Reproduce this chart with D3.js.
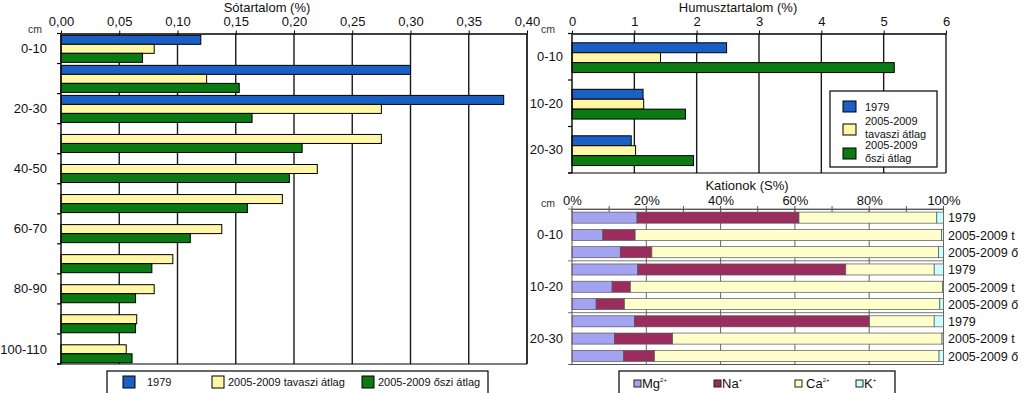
<!DOCTYPE html>
<html>
<head>
<meta charset="utf-8">
<script src="https://cdn.jsdelivr.net/npm/d3@7"></script>
<style>
  body { margin: 0; background: #fff; }
  svg { display: block; font-family: "Liberation Sans", Arial, sans-serif; }
</style>
</head>
<body>
<div id="chart"></div>
<script>
// Sótartalom (%) - 11 mélység
const saltDepths = ["0-10", "10-20", "20-30", "30-40", "40-50", "50-60", "60-70", "70-80", "80-90", "90-100", "100-110"];
const saltTicks = [0, 0.05, 0.10, 0.15, 0.20, 0.25, 0.30, 0.35, 0.40];
const salt1979 = [0.120, 0.300, 0.380, null, null, null, null, null, null, null, null];
const saltSpring = [0.080, 0.125, 0.275, 0.275, 0.220, 0.190, 0.138, 0.096, 0.080, 0.065, 0.056];
const saltAutumn = [0.070, 0.153, 0.164, 0.207, 0.196, 0.160, 0.111, 0.078, 0.064, 0.064, 0.061];

// Humusztartalom (%)
const humusDepths = ["0-10", "10-20", "20-30"];
const humusTicks = [0, 1, 2, 3, 4, 5, 6];
const humus1979 = [2.48, 1.14, 0.95];
const humusSpring = [1.42, 1.15, 1.02];
const humusAutumn = [5.17, 1.82, 1.95];

const seriesNames = ["1979", "2005-2009 tavaszi átlag", "2005-2009 őszi átlag"];
const seriesColors = ["#1a5fc4", "#fff7a3", "#0b7a12"];

// Kationok (S%)
const kationGroups = ["0-10", "10-20", "20-30"];
const kationRowNames = ["1979", "2005-2009 t", "2005-2009 ő"];
const kationTicks = [0, 20, 40, 60, 80, 100];
const kationMg = [17.5, 8.3, 13.0, 17.7, 10.8, 6.5, 16.8, 11.4, 13.9];
const kationNa = [43.6, 8.7, 8.5, 56.0, 4.9, 7.6, 63.3, 15.7, 8.3];
const kationCa = [37.1, 82.5, 77.2, 23.8, 84.1, 84.9, 17.4, 72.5, 76.6];
const kationK = [1.8, 0.5, 1.3, 2.5, 0.2, 1.0, 2.5, 0.4, 1.2];
const ionNames = ["Mg", "Na", "Ca", "K"];
const ionCharges = ["2+", "+", "2+", "+"];
const ionColors = ["#a3a3f2", "#9b2c5e", "#ffffcc", "#ccffff"];

const svg = d3.select("#chart").append("svg")
  .attr("width", 1024).attr("height", 393);

const comma = f => v => f(v).replace(".", ",");

function groupedBarChart(opt) {
  const g = svg.append("g");
  const x = d3.scaleLinear().domain(opt.domain).range(opt.xRange);
  const rows = d3.scaleBand().domain(opt.depths).range(opt.yRange).padding(0);
  const inner = d3.scaleBand().domain(d3.range(3))
    .range([rows.bandwidth() * opt.inner[0], rows.bandwidth() * opt.inner[1]]).padding(0);
  const [y0, y1] = opt.yRange;

  // rács
  g.selectAll(".grid").data(opt.ticks.slice(1)).join("line")
    .attr("x1", d => x(d)).attr("x2", d => x(d))
    .attr("y1", y0).attr("y2", y1)
    .attr("stroke", "#1a1a1a").attr("stroke-width", 1.4);

  // oszlopok
  const series = [opt.a, opt.b, opt.c];
  series.forEach((vals, si) => {
    g.selectAll(".bar" + si).data(opt.depths.map((d, i) => ({ d, v: vals[i] })).filter(e => e.v != null))
      .join("rect")
      .attr("x", x(0))
      .attr("y", e => rows(e.d) + inner(si))
      .attr("width", e => x(e.v) - x(0))
      .attr("height", inner.bandwidth())
      .attr("fill", seriesColors[si])
      .attr("stroke", "#000").attr("stroke-width", 1);
  });

  // felső tengely
  const top = g.append("g").attr("transform", `translate(0,${y0})`)
    .call(d3.axisTop(x).tickValues(opt.ticks).tickFormat(opt.format).tickSize(3).tickSizeOuter(0));
  top.select(".domain").attr("stroke", "#000").attr("stroke-width", 1.4);
  top.selectAll("text").attr("font-size", 13).attr("fill", "#111").attr("dy", "-0.15em");

  // bal tengely
  g.append("line").attr("x1", x(0)).attr("x2", x(0)).attr("y1", y0).attr("y2", y1)
    .attr("stroke", "#000").attr("stroke-width", 1.4);
  g.selectAll(".ltick").data(d3.range(opt.depths.length + 1)).join("line")
    .attr("x1", x(0) - 4).attr("x2", x(0))
    .attr("y1", i => y0 + i * rows.step()).attr("y2", i => y0 + i * rows.step())
    .attr("stroke", "#000").attr("stroke-width", 1.2);
  g.selectAll(".dlabel").data(opt.depths.filter((d, i) => i % 2 === 0 || opt.depths.length < 5)).join("text")
    .attr("x", opt.labelX)
    .attr("y", d => rows(d) + rows.bandwidth() / 2)
    .attr("dy", "0.35em")
    .attr("text-anchor", "end").attr("font-size", 13).attr("fill", "#111")
    .text(d => d);
  g.append("text").attr("x", opt.cmX).attr("y", y0 - 1)
    .attr("text-anchor", "middle").attr("font-size", 10.5).attr("fill", "#333").text("cm");

  // alsó vonal
  g.append("line").attr("x1", x(0) - 4).attr("x2", x(opt.domain[1])).attr("y1", y1).attr("y2", y1)
    .attr("stroke", "#000").attr("stroke-width", 1.2);

  g.append("text").attr("x", opt.titleX).attr("y", 12)
    .attr("text-anchor", "middle").attr("font-size", 13).attr("fill", "#111").text(opt.title);
  return g;
}

// Sótartalom
groupedBarChart({
  domain: [0, 0.4], xRange: [61, 527], yRange: [33.5, 364],
  depths: saltDepths, ticks: saltTicks, format: comma(d3.format(".2f")),
  a: salt1979, b: saltSpring, c: saltAutumn, inner: [0.06, 0.96],
  labelX: 47, cmX: 35, titleX: 267, title: "Sótartalom (%)"
});

// Humusztartalom
groupedBarChart({
  domain: [0, 6], xRange: [572, 946], yRange: [33.5, 173],
  depths: humusDepths, ticks: humusTicks, format: d3.format("d"),
  a: humus1979, b: humusSpring, c: humusAutumn, inner: [0.2, 0.84],
  labelX: 563, cmX: 548, titleX: 738, title: "Humusztartalom (%)"
});

// jelmagyarázat - bal
const leg1 = svg.append("g");
leg1.append("rect").attr("x", 107).attr("y", 371).attr("width", 381).attr("height", 26)
  .attr("fill", "#fff").attr("stroke", "#000").attr("stroke-width", 1.2);
const leg1X = [123, 212, 362];
seriesNames.forEach((n, i) => {
  leg1.append("rect").attr("x", leg1X[i]).attr("y", 376).attr("width", 12).attr("height", 12)
    .attr("fill", seriesColors[i]).attr("stroke", "#000");
  leg1.append("text").attr("x", leg1X[i] + (i === 0 ? 24 : 16)).attr("y", 386)
    .attr("font-size", 11).attr("fill", "#111").text(n);
});

// jelmagyarázat - humusz
const leg2 = svg.append("g");
leg2.append("rect").attr("x", 830).attr("y", 91).attr("width", 107).attr("height", 76)
  .attr("fill", "#fff").attr("stroke", "#000").attr("stroke-width", 1.2);
const leg2Lines = [["1979"], ["2005-2009", "tavaszi átlag"], ["2005-2009", "őszi átlag"]];
const leg2Y = [101, 124, 148];
leg2Lines.forEach((lines, i) => {
  leg2.append("rect").attr("x", 843).attr("y", leg2Y[i]).attr("width", 13).attr("height", 11)
    .attr("fill", seriesColors[i]).attr("stroke", "#000");
  const t = leg2.append("text").attr("x", 865).attr("font-size", 11).attr("fill", "#111")
    .attr("y", lines.length === 1 ? leg2Y[i] + 10 : leg2Y[i] + 1);
  lines.forEach((l, j) => t.append("tspan").attr("x", 865).attr("dy", j === 0 ? 0 : 13).text(l));
});

// Kationok
(function () {
  const g = svg.append("g");
  const x = d3.scaleLinear().domain([0, 100]).range([572, 943.5]);
  const rowIds = d3.range(kationMg.length);
  const y = d3.scaleBand().domain(rowIds).range([209, 364.5]).paddingInner(0.36).paddingOuter(0.18);
  const stackData = rowIds.map(i => ({ i, Mg: kationMg[i], Na: kationNa[i], Ca: kationCa[i], K: kationK[i] }));
  const stacked = d3.stack().keys(ionNames)(stackData);

  g.selectAll(".grid").data(kationTicks.slice(1)).join("line")
    .attr("x1", d => x(d)).attr("x2", d => x(d)).attr("y1", 209).attr("y2", 364.5)
    .attr("stroke", "#666").attr("stroke-width", 1);

  stacked.forEach((layer, li) => {
    g.selectAll(".k" + li).data(layer).join("rect")
      .attr("x", d => x(d[0]))
      .attr("y", d => y(d.data.i))
      .attr("width", d => Math.max(0, x(d[1]) - x(d[0])))
      .attr("height", y.bandwidth())
      .attr("fill", ionColors[li])
      .attr("stroke", "#555").attr("stroke-width", 0.7);
  });

  const top = g.append("g").attr("transform", "translate(0,209)")
    .call(d3.axisTop(x).tickValues(kationTicks).tickFormat(d => d + "%").tickSize(0).tickSizeOuter(0));
  top.select(".domain").attr("stroke", "#555").attr("stroke-width", 1);
  top.selectAll("text").attr("font-size", 13).attr("fill", "#111").attr("dy", "-0.1em");
  g.selectAll(".minor").data(d3.range(0, 101, 10)).join("line")
    .attr("x1", d => x(d)).attr("x2", d => x(d)).attr("y1", 206).attr("y2", 212)
    .attr("stroke", "#555");

  // bal tengely
  g.append("line").attr("x1", x(0)).attr("x2", x(0)).attr("y1", 209).attr("y2", 364.5).attr("stroke", "#555");
  g.append("line").attr("x1", x(0) - 3).attr("x2", x(100)).attr("y1", 364.5).attr("y2", 364.5).attr("stroke", "#555");
  const gs = y.step() * 3;
  g.selectAll(".gtick").data(d3.range(kationGroups.length + 1)).join("line")
    .attr("x1", x(0) - 4).attr("x2", x(100))
    .attr("y1", i => 209 + i * gs).attr("y2", i => 209 + i * gs)
    .attr("stroke", "#555").attr("stroke-width", 0.8);
  g.selectAll(".glabel").data(kationGroups).join("text")
    .attr("x", 563).attr("y", (d, i) => y(i * 3 + 1) + y.bandwidth() / 2).attr("dy", "0.35em")
    .attr("text-anchor", "end").attr("font-size", 13).attr("fill", "#111").text(d => d);
  g.selectAll(".rlabel").data(rowIds).join("text")
    .attr("x", 948).attr("y", i => y(i) + y.bandwidth() / 2).attr("dy", "0.38em")
    .attr("font-size", 12.5).attr("fill", "#111").text(i => kationRowNames[i % 3]);
  g.append("text").attr("x", 548).attr("y", 207).attr("text-anchor", "middle")
    .attr("font-size", 10.5).attr("fill", "#333").text("cm");
  g.append("text").attr("x", 747).attr("y", 190).attr("text-anchor", "middle")
    .attr("font-size", 13).attr("fill", "#111").text("Kationok (S%)");

  // jelmagyarázat
  const leg = svg.append("g");
  leg.append("rect").attr("x", 619).attr("y", 371).attr("width", 276).attr("height", 26)
    .attr("fill", "#fff").attr("stroke", "#000").attr("stroke-width", 1.2);
  const legX = [634, 714, 795, 856];
  ionNames.forEach((n, i) => {
    leg.append("rect").attr("x", legX[i]).attr("y", 380).attr("width", 7).attr("height", 7)
      .attr("fill", ionColors[i]).attr("stroke", "#222");
    const t = leg.append("text").attr("x", legX[i] + (i === 2 ? 11 : 8)).attr("y", 388)
      .attr("font-size", 13).attr("fill", "#111").text(n);
    t.append("tspan").attr("font-size", 6).attr("dy", -6).text(ionCharges[i]);
  });
})();

// a bal diagram jobb széle
svg.append("line").attr("x1", 527).attr("x2", 527).attr("y1", 33.5).attr("y2", 364)
  .attr("stroke", "#222").attr("stroke-width", 1.4);
</script>
</body>
</html>
